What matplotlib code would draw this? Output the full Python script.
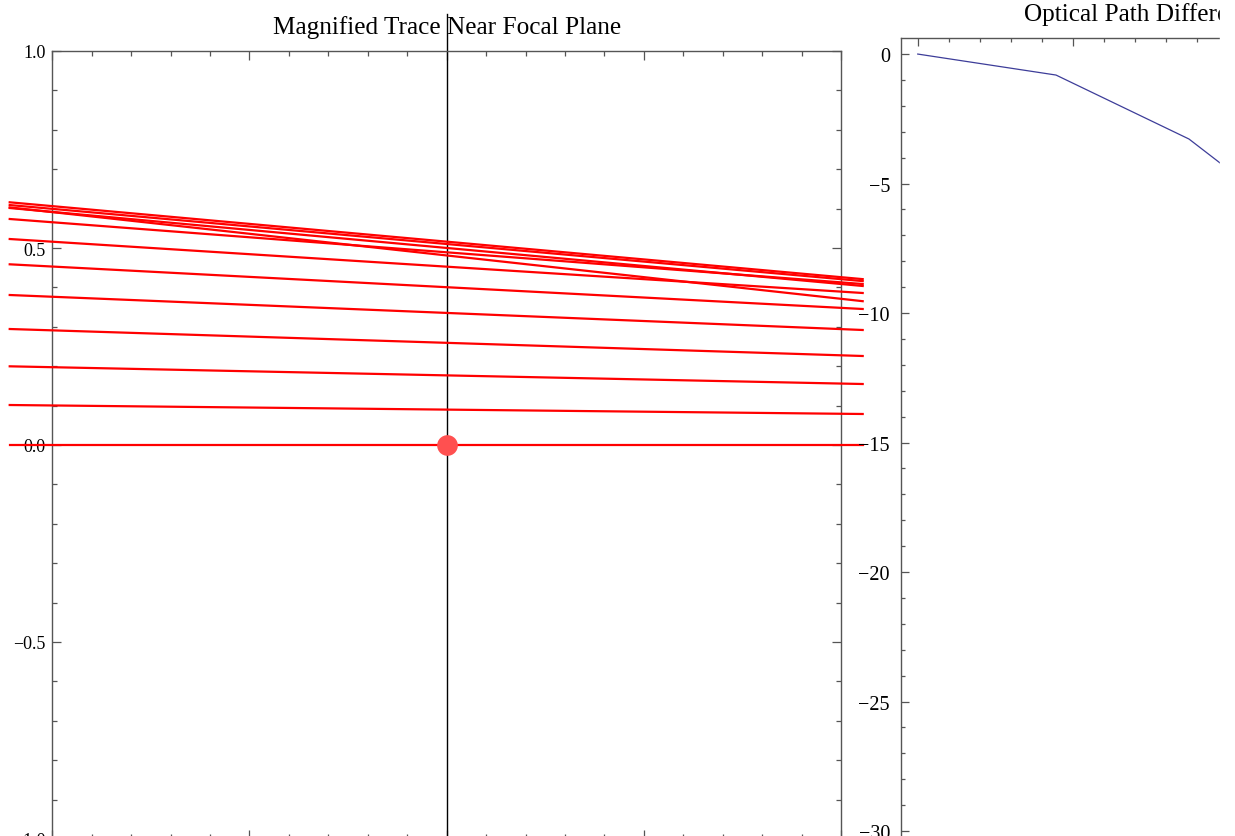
import matplotlib.pyplot as plt
from matplotlib.ticker import MultipleLocator
from matplotlib.patches import Rectangle

plt.rcParams['font.family'] = ['Liberation Serif', 'DejaVu Serif']

# rays near the focal plane: height where each ray enters / leaves the window
ray_x_in = -1.108
ray_x_out = 1.055
ray_y_in = [0.616, 0.609, 0.6015, 0.603, 0.5736, 0.5228, 0.4586, 0.3807, 0.2944, 0.1997, 0.1015, 0.0]
ray_y_out = [0.421, 0.416, 0.4036, 0.365, 0.4086, 0.3858, 0.3452, 0.2919, 0.2259, 0.1548, 0.0787, 0.0]

focal_x = 0.0
focal_top = 1.094
focus_x = [0.0]
focus_y = [0.0]

# optical path difference curve
opd_x = [0.0, 4.46, 8.75, 13.0]
opd_y = [0.0, -0.81, -3.28, -7.2]

W, H = 1235, 837
fig = plt.figure(figsize=(W / 100, H / 100), dpi=100)

frame_col = "#555555"

# ----------------------------------------
# magnified trace
# ----------------------------------------
ax = fig.add_axes([52.3 / W, (H - 840) / H, 788.7 / W, 788 / H])
ax.set_xlim(-1, 1)
ax.set_ylim(-1, 1)

ax.plot([focal_x, focal_x], [-1.2, focal_top], color="black", lw=1.0,
        clip_on=False, zorder=2)

for y0, y1 in zip(ray_y_in, ray_y_out):
    ax.plot([ray_x_in, ray_x_out], [y0, y1], color="#ff0000", lw=1.6,
            clip_on=False, zorder=3)

ax.plot(focus_x, focus_y, "o", color="#ff5050", markersize=14.9,
        markeredgewidth=0, clip_on=False, zorder=4)

ax.set_xticks([-1, -0.5, 0, 0.5, 1])
ax.set_yticks([-1, -0.5, 0, 0.5, 1])
ax.xaxis.set_minor_locator(MultipleLocator(0.1))
ax.yaxis.set_minor_locator(MultipleLocator(0.1))
ax.tick_params(which="both", direction="in", top=True, right=True,
               color=frame_col, labelsize=13, pad=5, labelbottom=False)
ax.tick_params(which="major", length=6.5, width=0.9)
ax.tick_params(which="minor", length=3.6, width=0.9)
for s in ax.spines.values():
    s.set_color(frame_col)
    s.set_linewidth(1.0)

ax.set_title("Magnified Trace Near Focal Plane", fontsize=18.2, pad=13)

# ----------------------------------------
# optical path difference
# ----------------------------------------
ax2 = fig.add_axes([901 / W, (H - 858) / H, 484.8 / W, 819 / H])
ax2.set_xlim(-0.54, 15.1)
ax2.set_ylim(-31, 0.62)

ax2.plot(opd_x, opd_y, color="#3d3d99", lw=0.9)

ax2.set_xticks([0, 5, 10, 15])
ax2.set_yticks([-30, -25, -20, -15, -10, -5, 0])
ax2.xaxis.set_minor_locator(MultipleLocator(1))
ax2.yaxis.set_minor_locator(MultipleLocator(1))
ax2.tick_params(which="both", direction="in", top=True, right=True,
                color=frame_col, labelsize=14.5, pad=8, labelbottom=False)
ax2.tick_params(which="major", length=5.5, width=0.9)
ax2.tick_params(which="minor", length=3.2, width=0.9)
for s in ax2.spines.values():
    s.set_color(frame_col)
    s.set_linewidth(1.0)

ax2.set_title("Optical Path Difference", fontsize=18.2, pad=13)

# the right panel is cut off in the original export
fig.add_artist(Rectangle((1220 / W, 0), 1 - 1220 / W, 1,
                         transform=fig.transFigure, color="white", zorder=20))

fig.savefig("out.png", dpi=100)
